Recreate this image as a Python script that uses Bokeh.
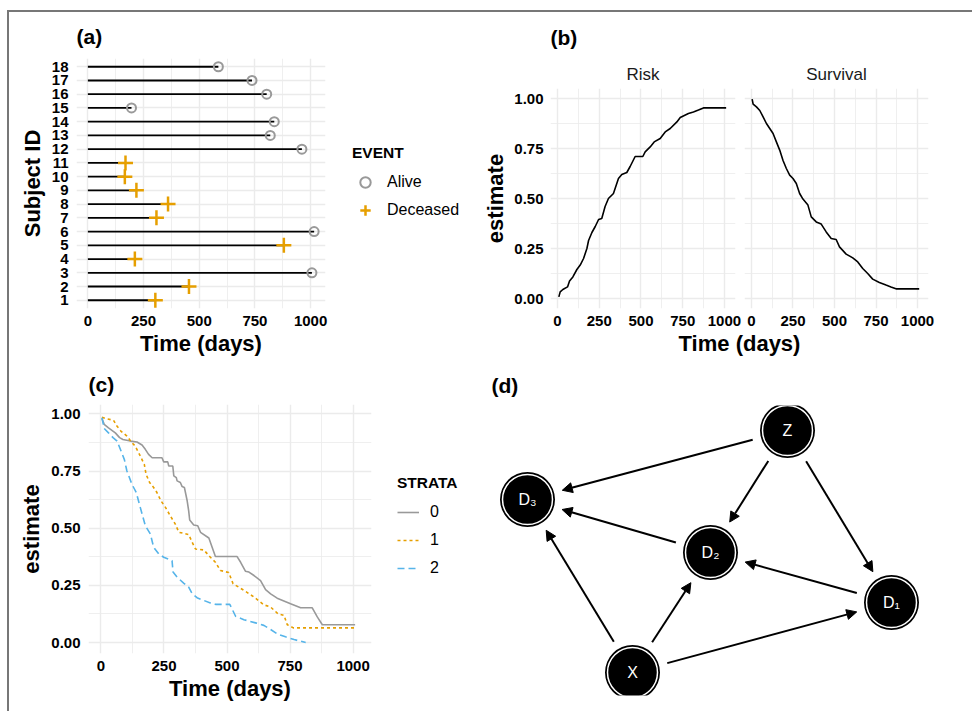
import math
from bokeh.plotting import figure
from bokeh.models import (FixedTicker, Legend, LegendItem, Range1d, Title, Arrow,
                          NormalHead, ColumnDataSource, NumeralTickFormatter)
from bokeh.layouts import row, column
from bokeh.embed import file_html
from bokeh.resources import INLINE
from bokeh.core.properties import value

FONT = "Liberation Sans"
NAN = float("nan")

# ---------------- Panel (a) data ----------------
subject_ids = list(range(1, 19))
follow_up_days = [303, 454, 1006, 211, 880, 1016, 308, 360, 218, 166, 169,
                  961, 819, 837, 196, 803, 737, 586]
event_status = ["Deceased", "Deceased", "Alive", "Deceased", "Deceased", "Alive",
                "Deceased", "Deceased", "Deceased", "Deceased", "Deceased",
                "Alive", "Alive", "Alive", "Alive", "Alive", "Alive", "Alive"]
time_ticks = [0, 250, 500, 750, 1000]
time_minor = [125, 375, 625, 875]
est_ticks = [0.0, 0.25, 0.5, 0.75, 1.0]
est_minor = [0.125, 0.375, 0.625, 0.875]

# ---------------- Panel (b) data ----------------
risk_days = [8, 16, 32, 60, 72, 92, 116, 136, 156, 176, 186, 206, 226, 246, 265, 285,
             305, 335, 365, 385, 415, 435, 465, 511, 525, 555, 579, 615, 645, 675, 715,
             735, 784, 814, 844, 874, 1010]
risk_est = [0.008, 0.033, 0.045, 0.058, 0.087, 0.108, 0.145, 0.167, 0.2, 0.25, 0.29,
            0.33, 0.36, 0.395, 0.40, 0.46, 0.50, 0.525, 0.60, 0.62, 0.63, 0.66, 0.71,
            0.71, 0.733, 0.758, 0.783, 0.80, 0.833, 0.85, 0.883, 0.905, 0.925, 0.933,
            0.942, 0.953, 0.953]
surv_days = [4, 10, 30, 50, 70, 90, 110, 130, 150, 170, 190, 210, 230, 250, 270, 290,
             310, 340, 360, 390, 420, 450, 480, 510, 530, 570, 610, 640, 670, 700, 730,
             770, 810, 840, 874, 1010]
surv_est = [0.997, 0.972, 0.958, 0.94, 0.908, 0.875, 0.85, 0.825, 0.783, 0.742, 0.69,
            0.65, 0.617, 0.60, 0.575, 0.525, 0.497, 0.467, 0.408, 0.383, 0.372, 0.333,
            0.30, 0.295, 0.258, 0.222, 0.203, 0.183, 0.15, 0.125, 0.097, 0.08, 0.067,
            0.058, 0.048, 0.048]

# ---------------- Panel (c) data ----------------
strata_labels = ["0", "1", "2"]
s0_days = [4, 13, 30, 57, 74, 87, 117, 143, 163, 176, 189, 203, 242, 249, 265, 269, 285,
           289, 299, 302, 315, 322, 331, 342, 348, 352, 368, 384, 395, 428, 441, 454,
           540, 554, 573, 587, 607, 633, 653, 673, 699, 752, 792, 838, 858, 878, 1008]
s0_est = [0.98, 0.954, 0.939, 0.917, 0.896, 0.888, 0.881, 0.877, 0.864, 0.845, 0.823,
          0.808, 0.808, 0.79, 0.79, 0.772, 0.772, 0.729, 0.721, 0.707, 0.70, 0.682,
          0.678, 0.62, 0.576, 0.536, 0.514, 0.511, 0.482, 0.457, 0.417, 0.376, 0.376,
          0.351, 0.312, 0.308, 0.293, 0.271, 0.231, 0.213, 0.194, 0.17, 0.152, 0.152,
          0.112, 0.078, 0.078]
s1_days = [4, 17, 50, 64, 79, 103, 123, 136, 156, 172, 179, 193, 209, 222, 238, 256, 275,
           295, 309, 326, 348, 362, 375, 408, 434, 454, 474, 507, 524, 547, 573, 607,
           646, 673, 702, 726, 739, 763, 1008]
s1_est = [0.985, 0.98, 0.972, 0.946, 0.925, 0.903, 0.874, 0.859, 0.816, 0.779, 0.736,
          0.70, 0.678, 0.656, 0.62, 0.591, 0.554, 0.518, 0.482, 0.478, 0.472, 0.438,
          0.409, 0.405, 0.373, 0.351, 0.315, 0.306, 0.257, 0.242, 0.224, 0.199, 0.165,
          0.155, 0.126, 0.119, 0.078, 0.064, 0.064]
s2_days = [4, 13, 30, 48, 64, 77, 93, 103, 123, 140, 156, 176, 196, 209, 229, 249, 282,
           286, 302, 328, 348, 362, 381, 401, 434, 454, 511, 534, 567, 613, 646, 673,
           702, 732, 766, 812]
s2_est = [0.983, 0.936, 0.917, 0.896, 0.881, 0.845, 0.80, 0.75, 0.692, 0.656, 0.591,
          0.511, 0.475, 0.417, 0.388, 0.373, 0.358, 0.308, 0.286, 0.26, 0.242, 0.213,
          0.196, 0.187, 0.173, 0.167, 0.167, 0.115, 0.10, 0.086, 0.075, 0.057, 0.036,
          0.025, 0.013, 0.0]

# ---------------- Panel (d) data ----------------
node_names = ["Z", "D3", "D2", "D1", "X"]
node_labels = ["Z", "D₃", "D₂", "D₁", "X"]
node_x = [2.96, 0.36, 2.19, 4.00, 1.41]
node_y = [2.65, 1.96, 1.43, 0.93, 0.23]
edges_from = ["Z", "Z", "Z", "D2", "D1", "X", "X", "X"]
edges_to = ["D3", "D2", "D1", "D3", "D2", "D3", "D2", "D1"]

GRID = "#EBEBEB"
ALIVE_COLOR = "#999999"
DEC_COLOR = "#E69F00"
STRATA_COLORS = ["#999999", "#E69F00", "#56B4E9"]
STRATA_DASH = ["solid", "3 3", "7 4"]


def style(p, minor_x=True, minor_y=True, ylab_standoff=8, ylab_axis_standoff=5):
    p.outline_line_color = None
    p.background_fill_color = "white"
    for ax in p.axis:
        ax.axis_line_color = None
        ax.major_tick_line_color = None
        ax.minor_tick_line_color = None
        ax.major_tick_out = 0
        ax.major_tick_in = 0
        ax.minor_tick_out = 0
        ax.minor_tick_in = 0
        ax.major_label_text_font = FONT
        ax.major_label_text_font_size = "15px"
        ax.major_label_text_font_style = "bold"
        ax.major_label_text_color = "black"
        ax.axis_label_text_font = FONT
        ax.axis_label_text_font_size = "22px"
        ax.axis_label_text_font_style = "bold"
        ax.axis_label_text_color = "black"
    for ax in p.xaxis:
        ax.major_label_standoff = 7
        ax.axis_label_standoff = 2
    for ax in p.yaxis:
        ax.major_label_standoff = ylab_standoff
        ax.axis_label_standoff = ylab_axis_standoff
    p.grid.grid_line_color = GRID
    p.grid.grid_line_width = 1.4
    if minor_x:
        p.xgrid.minor_grid_line_color = GRID
        p.xgrid.minor_grid_line_width = 0.8
    if minor_y:
        p.ygrid.minor_grid_line_color = GRID
        p.ygrid.minor_grid_line_width = 0.8


def style_title(t, size="21px", bold=True, standoff=4, align="left", color="black"):
    t.text_font = FONT
    t.text_font_size = size
    t.text_font_style = "bold" if bold else "normal"
    t.align = align
    t.standoff = standoff
    t.vertical_align = "top"
    t.text_color = color


def legend_figure(width, height):
    f = figure(width=width, height=height, x_range=Range1d(0, 1), y_range=Range1d(0, 1),
               min_border=0, output_backend="svg", toolbar_location=None)
    f.axis.visible = False
    f.grid.visible = False
    f.outline_line_color = None
    return f


def style_legend(lg, glyph_w, loc):
    lg.title_text_font = FONT
    lg.title_text_font_size = "15.5px"
    lg.title_text_font_style = "bold"
    lg.title_text_color = "black"
    lg.label_text_font = FONT
    lg.label_text_font_size = "16px"
    lg.label_text_color = "black"
    lg.border_line_color = None
    lg.background_fill_alpha = 0
    lg.margin = 0
    lg.padding = 10
    lg.glyph_width = glyph_w
    lg.glyph_height = 26
    lg.label_height = 26
    lg.spacing = 2
    lg.title_standoff = 7
    lg.location = loc


tick_time = FixedTicker(ticks=time_ticks, minor_ticks=time_minor)
tick_est = FixedTicker(ticks=est_ticks, minor_ticks=est_minor)

# ---------------- Panel (a) ----------------
pa = figure(width=331, height=353, x_range=Range1d(-51, 1067), y_range=Range1d(0.4, 18.6),
            min_border_left=67, min_border_right=15, min_border_top=46, min_border_bottom=57,
            output_backend="svg", toolbar_location=None, title="(a)")
pa.segment(x0=0, y0=subject_ids, x1=follow_up_days, y1=subject_ids,
           line_color="black", line_width=1.8)
alive_x = [t for t, e in zip(follow_up_days, event_status) if e == "Alive"]
alive_y = [s for s, e in zip(subject_ids, event_status) if e == "Alive"]
dec_x = [t for t, e in zip(follow_up_days, event_status) if e == "Deceased"]
dec_y = [s for s, e in zip(subject_ids, event_status) if e == "Deceased"]
pa.scatter(alive_x, alive_y, marker="circle", size=9, fill_color=None,
           line_color=ALIVE_COLOR, line_width=2)
pa.scatter(dec_x, dec_y, marker="cross", size=15, line_color=DEC_COLOR, line_width=2.5)
pa.xaxis.ticker = tick_time
pa.yaxis.ticker = FixedTicker(ticks=subject_ids)
pa.xaxis.axis_label = "Time (days)"
pa.yaxis.axis_label = "Subject ID"
style(pa, minor_x=True, minor_y=False, ylab_axis_standoff=4)
pa.xgrid.ticker = tick_time
pa.ygrid.ticker = FixedTicker(ticks=subject_ids)
style_title(pa.title, standoff=17)

# legend keys (not-a-number points: they only feed the legend swatches)
la = legend_figure(138, 353)
k_alive = la.scatter([NAN], [NAN], marker="circle", size=9, fill_color=None,
                     line_color=ALIVE_COLOR, line_width=2)
k_dec = la.scatter([NAN], [NAN], marker="cross", size=15, line_color=DEC_COLOR,
                   line_width=2.5)
leg_a = Legend(items=[LegendItem(label="Alive", renderers=[k_alive]),
                      LegendItem(label="Deceased", renderers=[k_dec])], title="EVENT")
style_legend(leg_a, 26, (12, 142))
leg_a.label_standoff = 9
la.add_layout(leg_a, "center")

# ---------------- Panel (b) ----------------
pb1 = figure(width=266, height=318, x_range=Range1d(-42, 1066), y_range=Range1d(-0.05, 1.05),
             min_border_left=72, min_border_right=9, min_border_top=76, min_border_bottom=22,
             output_backend="svg", toolbar_location=None, title="(b)")
pb1.line(risk_days, risk_est, line_color="black", line_width=1.6)
pb2 = figure(width=228, height=318, x_range=Range1d(-42, 1066), y_range=Range1d(-0.05, 1.05),
             min_border_left=0, min_border_right=44, min_border_top=76, min_border_bottom=22,
             output_backend="svg", toolbar_location=None, title="Survival")
pb2.line(surv_days, surv_est, line_color="black", line_width=1.6)
for p in (pb1, pb2):
    p.xaxis.ticker = tick_time
    p.yaxis.ticker = tick_est
    p.yaxis.formatter = NumeralTickFormatter(format="0.00")
    style(p, ylab_standoff=7, ylab_axis_standoff=3)
    p.xgrid.ticker = tick_time
    p.ygrid.ticker = tick_est
pb1.yaxis.axis_label = "estimate"
pb2.yaxis.visible = False
style_title(pb1.title, standoff=24)
style_title(pb2.title, size="17px", bold=False, standoff=5, align="center", color="#1A1A1A")
strip_risk = Title(text="Risk")
style_title(strip_risk, size="17px", bold=False, standoff=5, align="center", color="#1A1A1A")
pb1.add_layout(strip_risk, "above")

pbl = figure(width=494, height=35, min_border_left=72, min_border_right=44,
             min_border_top=0, min_border_bottom=0, output_backend="svg",
             toolbar_location=None, title="Time (days)")
pbl.axis.visible = False
pbl.grid.visible = False
pbl.outline_line_color = None
style_title(pbl.title, size="22px", bold=True, standoff=0, align="center")

# ---------------- Panel (c) ----------------
pc = figure(width=372, height=346, x_range=Range1d(-49.3, 1073), y_range=Range1d(-0.048, 1.041),
            min_border_left=79, min_border_right=10, min_border_top=38, min_border_bottom=58,
            output_backend="svg", toolbar_location=None, title="(c)")
for d_, e_, c_, ds_ in zip([s0_days, s1_days, s2_days], [s0_est, s1_est, s2_est],
                           STRATA_COLORS, STRATA_DASH):
    pc.line(d_, e_, line_color=c_, line_width=1.6, line_dash=ds_)
pc.xaxis.ticker = tick_time
pc.yaxis.ticker = tick_est
pc.yaxis.formatter = NumeralTickFormatter(format="0.00")
pc.xaxis.axis_label = "Time (days)"
pc.yaxis.axis_label = "estimate"
style(pc, ylab_axis_standoff=4)
pc.xgrid.ticker = tick_time
pc.ygrid.ticker = tick_est
style_title(pc.title, standoff=14)

lc = legend_figure(104, 346)
keys_c = [lc.line([NAN, NAN], [NAN, NAN], line_color=c_, line_width=1.6, line_dash=ds_)
          for c_, ds_ in zip(STRATA_COLORS, STRATA_DASH)]
leg_c = Legend(items=[LegendItem(label=lab, renderers=[k]) for lab, k in zip(strata_labels, keys_c)],
               title="STRATA")
style_legend(leg_c, 22, (16, 130))
leg_c.label_standoff = 11
lc.add_layout(leg_c, "center")

# ---------------- Panel (d) ----------------
pdg = figure(width=487, height=346, x_range=Range1d(0, 4.69), y_range=Range1d(0, 2.90),
             min_border_left=6, min_border_right=12, min_border_top=40, min_border_bottom=16,
             output_backend="svg", toolbar_location=None, title="(d)")
pdg.axis.visible = False
pdg.grid.visible = False
pdg.outline_line_color = None
style_title(pdg.title, standoff=14)

pos = {n: (x, y) for n, x, y in zip(node_names, node_x, node_y)}
gap = 0.36
xs, ys, xe, ye = [], [], [], []
for a, b in zip(edges_from, edges_to):
    (x0, y0), (x1, y1) = pos[a], pos[b]
    d = math.hypot(x1 - x0, y1 - y0)
    ux, uy = (x1 - x0) / d, (y1 - y0) / d
    xs.append(x0 + gap * ux)
    ys.append(y0 + gap * uy)
    xe.append(x1 - gap * ux)
    ye.append(y1 - gap * uy)
arrows = Arrow(end=NormalHead(size=10, fill_color="black", line_color="black", line_width=1),
               source=ColumnDataSource(dict(xs=xs, ys=ys, xe=xe, ye=ye)),
               x_start="xs", y_start="ys", x_end="xe", y_end="ye",
               line_color="black", line_width=2)
pdg.add_layout(arrows)
pdg.scatter(node_x, node_y, marker="circle", size=55, fill_color="black", line_color=None)
pdg.scatter(node_x, node_y, marker="circle", size=50, fill_color=None, line_color="white",
            line_width=1.5)
pdg.text(node_x, node_y, text=node_labels, text_align="center", text_baseline="middle",
         text_color="white", text_font=value(FONT), text_font_size="16px")

top = row(column(pa), column(la), column(row(pb1, pb2), pbl))
bottom = row(column(pc), column(lc), column(pdg))
layout = column(top, bottom, margin=(10, 0, 0, 7),
                styles={"border-top": "2px solid #777777", "border-left": "2px solid #777777"})

open("out.html", "w").write(file_html(layout, INLINE))
